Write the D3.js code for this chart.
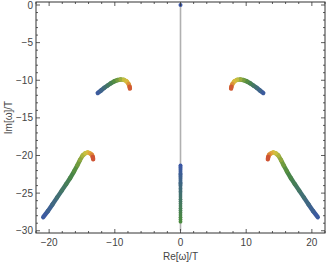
<!DOCTYPE html>
<html><head><meta charset="utf-8">
<script src="https://cdn.jsdelivr.net/npm/d3@7"></script>
<style>html,body{margin:0;padding:0;background:#fff;}svg{display:block;}</style>
</head><body>
<svg id="c" width="327" height="263"></svg>
<script>
// Data (Re[ω]/T, Im[ω]/T), ordered from blue end to red end
const lowerLeft = [[-20.9,-28.2],[-20.2,-27.4],[-19.5,-26.5],[-18.8,-25.6],[-18.1,-24.7],[-17.4,-23.8],[-16.8,-23.0],[-16.2,-22.1],[-15.7,-21.3],[-15.3,-20.6],[-14.9,-20.0],[-14.5,-19.7],[-14.1,-19.6],[-13.8,-19.7],[-13.5,-19.9],[-13.35,-20.2],[-13.3,-20.5]];
const lowerRight = [[20.9,-28.2],[20.2,-27.4],[19.5,-26.5],[18.8,-25.6],[18.1,-24.7],[17.4,-23.8],[16.8,-23.0],[16.2,-22.1],[15.7,-21.3],[15.3,-20.6],[14.9,-20.0],[14.5,-19.7],[14.1,-19.6],[13.8,-19.7],[13.5,-19.9],[13.35,-20.2],[13.3,-20.5]];
const upperLeft = [[-12.6,-11.7],[-12.1,-11.35],[-11.6,-11.0],[-11.1,-10.7],[-10.6,-10.4],[-10.1,-10.15],[-9.6,-9.98],[-9.1,-9.9],[-8.6,-9.95],[-8.2,-10.15],[-7.9,-10.5],[-7.75,-10.85],[-7.7,-11.1]];
const upperRight = [[12.6,-11.7],[12.1,-11.35],[11.6,-11.0],[11.1,-10.7],[10.6,-10.4],[10.1,-10.15],[9.6,-9.98],[9.1,-9.9],[8.6,-9.95],[8.2,-10.15],[7.9,-10.5],[7.75,-10.85],[7.7,-11.1]];
const centerIm = [-21.3,-21.45,-21.6,-21.75,-21.9,-22.05,-22.2,-22.35,-22.5,-22.65,-22.8,-22.95,-23.1,-23.25,-23.4,-23.55,-23.7,-23.85,-24.0,-24.2,-24.4,-24.6,-24.8,-25.0,-25.25,-25.5,-25.8,-26.1,-26.4,-26.7,-27.0,-27.3,-27.6,-27.9,-28.2,-28.5,-28.8];
const topPoint = [0, 0];
const guideLine = [[0,0],[0,-30]];
const xTicks = [-20,-10,0,10,20];
const yTicks = [0,-5,-10,-15,-20,-25,-30];

const svg = d3.select("#c");
const L=36,R=325,T=2,B=233;
const x = d3.scaleLinear().domain([-22,22]).range([L,R]);
const y = d3.scaleLinear().domain([-30.3,0.4]).range([B,T]);
const col = d3.scaleLinear().domain([0,0.45,0.75,0.88,1])
  .range(["#3a56a6","#4a8a3e","#d6c63e","#e2983a","#c83a30"]).interpolate(d3.interpolateRgb);
const font = "'Liberation Sans', Arial, sans-serif";

// gray guide line
svg.append("line").attr("x1",x(guideLine[0][0])).attr("x2",x(guideLine[1][0]))
  .attr("y1",y(guideLine[0][1])).attr("y2",y(guideLine[1][1]))
  .attr("stroke","#b0b0b0").attr("stroke-width",1.6);

function drawArc(pts){
  const n=pts.length-1;
  const g=svg.append("g");
  for(let i=0;i<n;i++){
    const a=pts[i],b=pts[i+1];
    g.append("line").attr("x1",x(a[0])).attr("y1",y(a[1])).attr("x2",x(b[0])).attr("y2",y(b[1]))
      .attr("stroke",d3.interpolateRgb(col(i/n),col((i+1)/n))(0.5)).attr("stroke-width",4.4).attr("stroke-linecap","round");
  }
}
[lowerLeft,lowerRight,upperLeft,upperRight].forEach(drawArc);

// central column
const cc=d3.scaleLinear().domain([-21.3,-24.5,-28.8]).range(["#3a56a6","#3f6a78","#4a8a3e"]);
svg.append("g").selectAll("circle").data(centerIm).join("circle")
  .attr("cx",x(0)).attr("cy",d=>y(d)).attr("r",1.9)
  .attr("fill",d=>cc(d));
svg.append("circle").attr("cx",x(topPoint[0])).attr("cy",y(topPoint[1])).attr("r",2).attr("fill","#3a56a6");

// frame
const fc="#333";
svg.append("rect").attr("x",L).attr("y",T).attr("width",R-L).attr("height",B-T)
  .attr("fill","none").attr("stroke",fc).attr("stroke-width",1);
const g=svg.append("g").attr("stroke",fc).attr("stroke-width",0.8);
const xMinor=d3.range(-22,22.01,2), yMinor=d3.range(-30,0.01,1);
xMinor.forEach(v=>{const len=xTicks.includes(v)?4:2;
  g.append("line").attr("x1",x(v)).attr("x2",x(v)).attr("y1",B).attr("y2",B-len);
  g.append("line").attr("x1",x(v)).attr("x2",x(v)).attr("y1",T).attr("y2",T+len);});
yMinor.forEach(v=>{const len=yTicks.includes(v)?4:2;
  g.append("line").attr("y1",y(v)).attr("y2",y(v)).attr("x1",L).attr("x2",L+len);
  g.append("line").attr("y1",y(v)).attr("y2",y(v)).attr("x1",R).attr("x2",R-len);});

const fmt=v=>v<0?"\u2212"+Math.abs(v):String(v);
svg.append("g").selectAll("text").data(xTicks).join("text")
  .attr("x",d=>x(d)).attr("y",B+13).attr("text-anchor","middle")
  .attr("font-family",font).attr("font-size",10).attr("fill","#444").text(fmt);
svg.append("g").selectAll("text").data(yTicks).join("text")
  .attr("x",L-3).attr("y",d=>y(d)+3.5).attr("text-anchor","end")
  .attr("font-family",font).attr("font-size",10).attr("fill","#444").text(fmt);
svg.append("text").attr("x",(L+R)/2).attr("y",B+27).attr("text-anchor","middle")
  .attr("font-family",font).attr("font-size",10).attr("fill","#444").text("Re[\u03c9]/T");
svg.append("text").attr("transform",`translate(12,${(T+B)/2}) rotate(-90)`).attr("text-anchor","middle")
  .attr("font-family",font).attr("font-size",10).attr("fill","#444").text("Im[\u03c9]/T");
</script>
</body></html>
